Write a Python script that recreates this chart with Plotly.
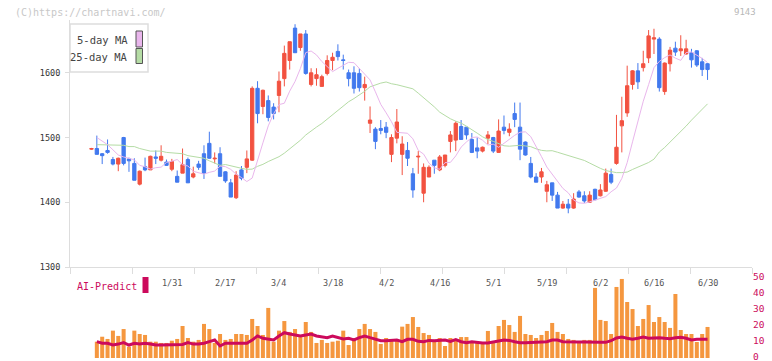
import plotly.graph_objects as go
import pandas as pd

# ---------------- data ----------------
jan = [9, 10, 14, 15, 16, 17, 20, 21, 22, 23, 24, 27, 28, 29, 30, 31]
feb = [3, 4, 5, 6, 7, 10, 12, 13, 14, 17, 18, 19, 20, 21, 25, 26, 27, 28]
mar = [3, 4, 5, 6, 7, 10, 11, 12, 13, 14, 17, 18, 19, 21, 24, 25, 26, 27, 28, 31]
apr = [1, 2, 3, 4, 7, 8, 9, 10, 11, 14, 15, 16, 17, 18, 21, 22, 23, 24, 25, 28, 30]
may = [1, 2, 7, 8, 9, 12, 13, 14, 15, 16, 19, 20, 21, 22, 23, 26, 27, 28, 29, 30]
jun = [2, 3, 4, 5, 6, 9, 10, 11, 12, 13, 16, 17, 18, 19, 20, 23, 24, 25, 26, 27, 30]
dates = ([f"1/{d}" for d in jan] + [f"2/{d}" for d in feb] + [f"3/{d}" for d in mar]
         + [f"4/{d}" for d in apr] + [f"5/{d}" for d in may] + [f"6/{d}" for d in jun])

tick_labels = ["1/31", "2/17", "3/4", "3/18", "4/2", "4/16", "5/1", "5/19", "6/2", "6/16", "6/30"]

opens = [1482, 1483, 1475, 1480, 1466, 1459, 1500, 1467, 1460, 1428, 1455, 1450, 1470, 1465, 1462, 1451,
         1440, 1445, 1466, 1439, 1459, 1475, 1491, 1467, 1475, 1447, 1430, 1407, 1450, 1454, 1465, 1576,
         1548, 1557, 1547, 1565, 1591, 1619, 1669, 1639, 1660, 1582, 1591, 1579, 1599, 1619, 1633, 1620,
         1600, 1600, 1599, 1577, 1522, 1513, 1514, 1516, 1474, 1499, 1474, 1480, 1444, 1470, 1414, 1439,
         1465, 1450, 1457, 1494, 1496, 1517, 1516, 1497, 1484, 1479, 1499, 1500, 1477, 1516, 1508, 1537,
         1516, 1493, 1460, 1439, 1439, 1417, 1430, 1411, 1391, 1397, 1391, 1416, 1410, 1400, 1420, 1410,
         1417, 1443, 1460, 1518, 1538, 1582, 1603, 1608, 1623, 1652, 1652, 1571, 1614, 1638, 1634, 1629,
         1631, 1634, 1617, 1614]
highs = [1484, 1503, 1476, 1497, 1470, 1469, 1501, 1469, 1468, 1449, 1469, 1472, 1480, 1488, 1466, 1467,
         1449, 1483, 1469, 1455, 1464, 1488, 1509, 1477, 1485, 1448, 1436, 1448, 1456, 1480, 1579, 1587,
         1574, 1565, 1553, 1602, 1642, 1648, 1675, 1660, 1666, 1607, 1607, 1597, 1627, 1631, 1644, 1628,
         1605, 1610, 1607, 1594, 1548, 1516, 1527, 1524, 1505, 1544, 1502, 1493, 1453, 1479, 1460, 1457,
         1465, 1473, 1473, 1510, 1525, 1527, 1516, 1507, 1500, 1486, 1510, 1501, 1528, 1534, 1522, 1554,
         1554, 1494, 1470, 1445, 1453, 1433, 1430, 1416, 1402, 1405, 1414, 1419, 1417, 1417, 1421, 1428,
         1452, 1452, 1535, 1563, 1611, 1604, 1615, 1634, 1666, 1668, 1655, 1616, 1640, 1648, 1658, 1651,
         1637, 1635, 1623, 1615]
lows = [1481, 1474, 1459, 1475, 1457, 1448, 1457, 1447, 1434, 1426, 1448, 1450, 1459, 1463, 1456, 1448,
        1431, 1445, 1430, 1437, 1450, 1436, 1467, 1460, 1440, 1430, 1408, 1405, 1434, 1445, 1464, 1522,
        1536, 1525, 1528, 1539, 1579, 1605, 1631, 1634, 1597, 1579, 1580, 1579, 1596, 1604, 1619, 1605,
        1579, 1568, 1571, 1557, 1507, 1482, 1505, 1499, 1462, 1491, 1442, 1456, 1407, 1444, 1400, 1439,
        1444, 1448, 1454, 1477, 1479, 1497, 1497, 1476, 1468, 1477, 1490, 1476, 1477, 1505, 1502, 1516,
        1465, 1472, 1437, 1431, 1430, 1400, 1402, 1391, 1390, 1383, 1390, 1407, 1399, 1399, 1403, 1409,
        1416, 1428, 1458, 1477, 1532, 1574, 1575, 1602, 1615, 1629, 1571, 1566, 1602, 1626, 1626, 1628,
        1608, 1609, 1595, 1589]
closes = [1483, 1474, 1472, 1477, 1459, 1468, 1460, 1464, 1434, 1448, 1450, 1471, 1468, 1471, 1457, 1463,
          1431, 1458, 1430, 1444, 1454, 1445, 1468, 1468, 1440, 1433, 1408, 1442, 1437, 1467, 1576, 1537,
          1573, 1531, 1537, 1587, 1630, 1648, 1631, 1660, 1599, 1600, 1597, 1594, 1619, 1624, 1625, 1619,
          1591, 1576, 1577, 1582, 1527, 1494, 1511, 1508, 1500, 1524, 1490, 1468, 1419, 1471, 1454, 1454,
          1457, 1470, 1473, 1504, 1522, 1497, 1504, 1477, 1479, 1485, 1504, 1479, 1510, 1511, 1513, 1528,
          1482, 1473, 1439, 1431, 1447, 1427, 1411, 1391, 1397, 1391, 1405, 1408, 1402, 1411, 1404, 1419,
          1445, 1431, 1485, 1526, 1580, 1603, 1586, 1614, 1657, 1654, 1577, 1615, 1635, 1632, 1637, 1637,
          1620, 1612, 1605, 1605]

# MA values at the first slots need sessions before the visible window
ma5_lead = [1500, 1494, 1489, 1481]
ma25_lead = [1489, 1489, 1489, 1489, 1489, 1488, 1486, 1486, 1483, 1481, 1479, 1479,
             1479, 1477, 1476, 1475, 1475, 1472, 1471, 1470, 1468, 1464, 1461, 1457]
# the source chart draws its MA one session late up to this slot, then catches up
ma_catchup_slot = 106

# volume panel (drawn from the 2nd session slot onward, as in the source chart)
volumes = [10.2, 13.3, 11.9, 17.1, 13.8, 18.1, 7.1, 17.1, 15.0, 14.4, 10.2, 10.2, 9.4, 9.4, 10.8, 11.9,
           20.0, 12.5, 10.2, 11.3, 21.3, 18.1, 9.4, 15.0, 11.3, 11.9, 15.0, 15.0, 14.4, 24.4, 20.0, 14.4,
           31.3, 10.2, 17.1, 23.1, 16.3, 18.1, 14.4, 22.5, 16.3, 9.4, 11.3, 9.4, 10.2, 10.8, 17.1, 8.1,
           12.5, 18.1, 21.3, 18.1, 16.3, 8.8, 12.5, 11.3, 11.3, 19.6,
           21.3, 25.6, 19.4, 15.6, 14.4, 11.3, 12.5, 7.5, 12.5, 11.3, 13.1, 13.1, 10.0, 10.0, 9.4, 16.9,
           10.0, 20.0, 23.8, 20.6, 16.3, 26.3, 15.0, 14.4, 12.5, 14.4, 16.9, 21.9, 16.3, 15.0, 11.9, 11.3,
           9.4, 11.3, 11.3,
           43.8, 23.8, 23.1, 15.0, 44.4, 49.4, 35.0, 30.6, 20.0, 24.4, 33.1, 22.5, 25.6, 22.5, 18.8, 40.0,
           17.5, 15.0, 15.0, 10.0, 15.0, 19.4]
ai_predict = [10.2, 9.2, 9.2, 8.1, 8.7, 9.6, 8.1, 9.2, 8.7, 9.2, 8.7, 8.1, 8.1, 8.1, 8.1, 8.1, 8.5, 9.6,
              8.7, 8.7, 9.2, 10.2, 11.2, 7.5, 9.2, 9.2, 9.2, 9.2, 9.2, 11.2, 13.8, 12.3, 11.9, 11.25, 13.75,
              15.8, 15.0, 14.4, 13.75, 14.4, 15.0, 13.75, 13.1, 12.7, 13.75, 12.7, 11.9, 12.3, 11.25, 12.7,
              13.75, 12.7, 11.7, 10.8, 10.8, 10.8, 11.25, 10.2,
              11.7, 11.7, 10.4, 10.2, 11.0, 10.8, 10.8, 11.25, 10.4, 11.5, 10.2, 9.6, 10.2, 9.6, 9.4, 9.4,
              9.8, 10.6, 11.25, 11.0, 10.2, 9.6, 9.6, 9.8, 10.0, 10.2, 10.2, 11.25, 11.25, 10.2, 10.0,
              10.0, 10.0, 10.0, 9.8, 9.6, 9.8, 9.8, 10.8, 12.5, 13.1, 12.3, 11.7, 12.3, 13.1, 12.3, 12.7,
              12.7, 12.3, 12.1, 12.7, 12.9, 12.3, 11.25, 11.7, 11.7, 11.7]

price_ticks = [1300, 1400, 1500, 1600]
vol_ticks = [0, 10, 20, 30, 40, 50]

# ---------------- styling ----------------
UP, DOWN = "#f25240", "#4279ee"
MA5_C, MA25_C = "#e9b6ec", "#b5dca5"
VOL_C, AI_C = "#f5973f", "#cc0a5c"
FRAME = "#dddddd"
MONO = "DejaVu Sans Mono, monospace"

W, H = 772, 361
L, R, T, B = 70, 752, 20, 358


def px(x):
    return (x - L) / (R - L)


def py(y):
    return (B - y) / (B - T)


n = len(closes)
idx = list(range(n))
slots = idx[1:]

cs = pd.Series(closes)


def drawn_ma(window, lead):
    full = cs.rolling(window).mean()
    vals = []
    for s in slots:
        src = s - 1 if s < ma_catchup_slot else s
        if src < window - 1:
            vals.append(lead[s - 1])
        else:
            vals.append(float(full[src]))
    return vals


ma5 = drawn_ma(5, ma5_lead)
ma25 = drawn_ma(25, ma25_lead)

x_lo, x_hi = -4.01, 123.3

fig = go.Figure()
fig.add_trace(go.Candlestick(
    x=idx, open=opens, high=highs, low=lows, close=closes,
    increasing=dict(line=dict(color=UP, width=1), fillcolor=UP),
    decreasing=dict(line=dict(color=DOWN, width=1), fillcolor=DOWN),
    whiskerwidth=0, showlegend=False, hoverinfo="skip", xaxis="x", yaxis="y"))
fig.add_trace(go.Scatter(x=slots, y=ma25, mode="lines", line=dict(color=MA25_C, width=1),
                         showlegend=False, hoverinfo="skip", xaxis="x", yaxis="y"))
fig.add_trace(go.Scatter(x=slots, y=ma5, mode="lines", line=dict(color=MA5_C, width=1),
                         showlegend=False, hoverinfo="skip", xaxis="x", yaxis="y"))
fig.add_trace(go.Bar(x=slots, y=volumes, marker=dict(color=VOL_C, line=dict(width=0)), width=0.75,
                     showlegend=False, hoverinfo="skip", xaxis="x2", yaxis="y2"))
fig.add_trace(go.Scatter(x=slots, y=ai_predict, mode="lines", line=dict(color=AI_C, width=3),
                         showlegend=False, hoverinfo="skip", xaxis="x2", yaxis="y2"))

annotations = []
for lbl in tick_labels:
    annotations.append(dict(x=dates.index(lbl), y=py(282.5), xref="x", yref="paper", text=lbl,
                            showarrow=False, font=dict(family=MONO, size=8.5, color="#555555"),
                            xanchor="center", yanchor="middle"))
annotations += [
    dict(x=px(13), y=py(12.5), xref="paper", yref="paper", text="(C)https://chartnavi.com/",
         showarrow=False, xanchor="left", yanchor="middle",
         font=dict(family=MONO, size=10, color="#c8c8c8")),
    dict(x=px(758), y=py(12.5), xref="paper", yref="paper", text="9143", showarrow=False,
         xanchor="right", yanchor="middle", font=dict(family=MONO, size=9, color="#b8b8b8")),
    dict(x=px(130), y=py(40), xref="paper", yref="paper", text="5-day MA", showarrow=False,
         xanchor="right", yanchor="middle", font=dict(family=MONO, size=10.5, color="#444444")),
    dict(x=px(130), y=py(57), xref="paper", yref="paper", text="25-day MA", showarrow=False,
         xanchor="right", yanchor="middle", font=dict(family=MONO, size=10.5, color="#444444")),
    dict(x=px(75), y=py(286), xref="paper", yref="paper", text="AI-Predict", showarrow=False,
         xanchor="left", yanchor="middle", font=dict(family=MONO, size=10, color=AI_C)),
]

shapes = [
    dict(type="rect", xref="paper", yref="paper", x0=px(70), x1=px(148), y0=py(72), y1=py(24),
         line=dict(color=FRAME, width=1.5), fillcolor="white", layer="above"),
    dict(type="rect", xref="paper", yref="paper", x0=px(136), x1=px(142.5), y0=py(47), y1=py(31),
         line=dict(color="#555555", width=1), fillcolor=MA5_C, layer="above"),
    dict(type="rect", xref="paper", yref="paper", x0=px(136), x1=px(142.5), y0=py(63.5), y1=py(48.5),
         line=dict(color="#555555", width=1), fillcolor=MA25_C, layer="above"),
    dict(type="rect", xref="paper", yref="paper", x0=px(142.5), x1=px(148.5), y0=py(293), y1=py(277),
         line=dict(width=0), fillcolor=AI_C),
]

split = py(267)
fig.update_layout(
    width=W, height=H, margin=dict(l=L, r=W - R, t=T, b=H - B, autoexpand=False),
    paper_bgcolor="white", plot_bgcolor="white",
    boxgap=0.12,
    xaxis=dict(domain=[0, 1], range=[x_lo, x_hi], anchor="y", showline=True, linecolor=FRAME,
               linewidth=1, ticks="outside", ticklen=6, tickcolor=FRAME, tick0=x_lo,
               dtick=(x_hi - x_lo) / 11, showticklabels=False, showgrid=False, zeroline=False,
               rangeslider=dict(visible=False), automargin=False),
    yaxis=dict(domain=[split, 1], range=[1300, 1600 + (73 - T) / 0.65], anchor="x", showline=True,
               linecolor=FRAME, linewidth=1, ticks="outside", ticklen=4, tickcolor=FRAME,
               tickvals=price_ticks, ticklabelstandoff=3, automargin=False,
               tickfont=dict(family=MONO, size=8.5, color="#333333"), showgrid=False, zeroline=False),
    xaxis2=dict(domain=[0, 1], matches="x", anchor="y2", visible=False, automargin=False),
    yaxis2=dict(domain=[0, py(278)], range=[0, 50], anchor="x2", side="right", tickvals=vol_ticks,
                ticks="", showline=False, showgrid=False, zeroline=False, automargin=False,
                ticklabeloverflow="allow", ticklabelshift=-1,
                tickfont=dict(family=MONO, size=9.5, color=AI_C)),
    annotations=annotations, shapes=shapes,
)

fig.write_html("out.html", config={"staticPlot": True, "displayModeBar": False},
               post_script="document.body.style.margin='0';document.body.style.overflow='hidden';")
